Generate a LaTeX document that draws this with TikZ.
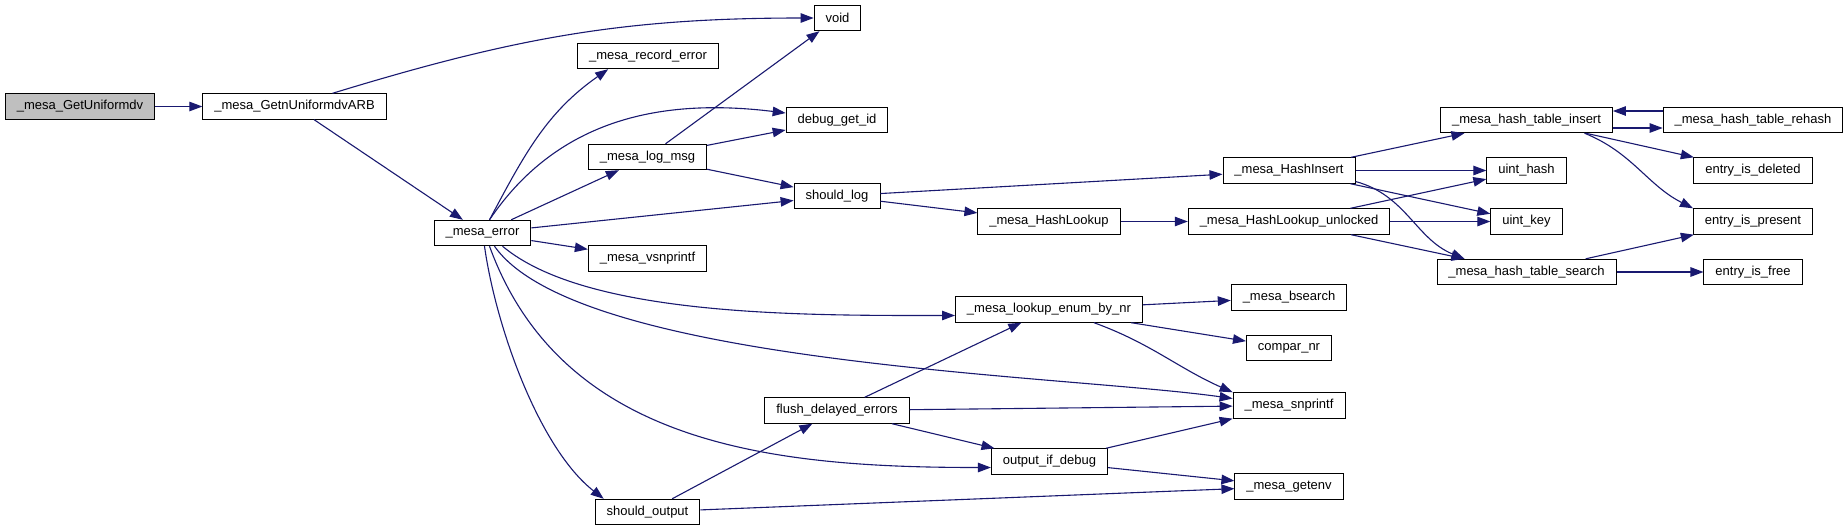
\documentclass[tikz,border=0pt]{standalone}
\usepackage{fontspec}
\setmainfont{Liberation Sans}
\usepackage{xcolor}
\usepackage{tikz}
\usetikzlibrary{arrows.meta,calc}
\definecolor{DoxEdge}{HTML}{191970}
\definecolor{DoxRoot}{HTML}{BFBFBF}

\begin{document}
\begin{tikzpicture}[
  x=1pt,y=1pt,
  font=\fontsize{13}{15}\selectfont,
  fn/.style={rectangle,draw=black,line width=0.9pt,fill=white,minimum height=25.5pt,inner xsep=11.5pt,inner ysep=2pt},
  fnroot/.style={fn,fill=DoxRoot},
  call/.style={-{Triangle[length=13pt,width=9.5pt]},line width=1.1pt,draw=DoxEdge}
]
\useasboundingbox (0,0) rectangle (1848,-531);
\fill[white] (0,0) rectangle (1848,-531);

\node[fnroot] (getunif) at (80,-106.5) {\_mesa\_GetUniformdv};
\node[fn] (getnarb) at (294.5,-106.5) {\_mesa\_GetnUniformdvARB};
\node[fn] (err) at (482.5,-233) {\_mesa\_error};
\node[fn] (void) at (837.5,-18) {void};
\node[fn] (recerr) at (648,-56) {\_mesa\_record\_error};
\node[fn] (dbgid) at (837,-120) {debug\_get\_id};
\node[fn] (logmsg) at (647.5,-157) {\_mesa\_log\_msg};
\node[fn] (shlog) at (837,-196) {should\_log};
\node[fn] (vsnp) at (647.5,-258.5) {\_mesa\_vsnprintf};
\node[fn] (shout) at (647.5,-512) {should\_output};
\node[fn] (flush) at (837,-410.5) {flush\_delayed\_errors};
\node[fn] (hlook) at (1049,-221.5) {\_mesa\_HashLookup};
\node[fn] (lookup) at (1049,-309.5) {\_mesa\_lookup\_enum\_by\_nr};
\node[fn] (outdbg) at (1049.5,-461.5) {output\_if\_debug};
\node[fn] (hins) at (1289,-170.5) {\_mesa\_HashInsert};
\node[fn] (hlookun) at (1289,-221.5) {\_mesa\_HashLookup\_unlocked};
\node[fn] (bsearch) at (1289,-297.5) {\_mesa\_bsearch};
\node[fn] (compar) at (1289,-348) {compar\_nr};
\node[fn] (snp) at (1289,-405.5) {\_mesa\_snprintf};
\node[fn] (getenv) at (1289,-486.5) {\_mesa\_getenv};
\node[fn] (htins) at (1526.5,-120) {\_mesa\_hash\_table\_insert};
\node[fn] (uhash) at (1526.5,-170.5) {uint\_hash};
\node[fn] (ukey) at (1526.5,-221.5) {uint\_key};
\node[fn] (htsrch) at (1526.5,-272) {\_mesa\_hash\_table\_search};
\node[fn] (htreh) at (1753,-120) {\_mesa\_hash\_table\_rehash};
\node[fn] (edel) at (1753,-170.5) {entry\_is\_deleted};
\node[fn] (epres) at (1753,-221.5) {entry\_is\_present};
\node[fn] (efree) at (1753,-272) {entry\_is\_free};

\draw[call] (getunif) -- (getnarb);
\draw[call] ($(getnarb.north)+(38,0)$) to[out=17,in=180] (void.west);
\draw[call] (getnarb) -- (err);
\draw[call] ($(err.north)+(7,0)$) to[out=62,in=215] ($(recerr.south west)+(31,0)$);
\draw[call] ($(err.north)+(7,0)$) to[out=56,in=173] ($(dbgid.west)+(0,7)$);
\draw[call] (err) -- (logmsg);
\draw[call] (err) -- (shlog);
\draw[call] (err) -- (vsnp);
\draw[call] ($(err.south)+(20,0)$) to[out=-40,in=180,out distance=110pt,in distance=150pt] ($(lookup.west)+(0,-6)$);
\draw[call] ($(err.south)+(12,0)$) to[out=-55,in=172,out distance=145pt,in distance=170pt] ($(snp.west)+(0,7)$);
\draw[call] ($(err.south)+(7,0)$) to[out=-70,in=180] ($(outdbg.west)+(0,-6)$);
\draw[call] ($(err.south)+(2,0)$) to[out=-82,in=142,looseness=0.75] ($(shout.north west)+(9,0)$);
\draw[call] (logmsg) -- (void);
\draw[call] (logmsg) -- (dbgid);
\draw[call] (logmsg) -- (shlog);
\draw[call] (shlog) -- (hins);
\draw[call] (shlog) -- (hlook);
\draw[call] (hlook) -- (hlookun);
\draw[call] (hins) -- (htins);
\draw[call] (hins) -- (uhash);
\draw[call] (hins) -- (ukey);
\draw[call] ($(hins.east)+(0,-11)$) to[out=-15,in=158] ($(htsrch.north west)+(28,0)$);
\draw[call] (hlookun) -- (uhash);
\draw[call] (hlookun) -- (ukey);
\draw[call] (hlookun) -- (htsrch);
\draw[call] ($(htins.east)+(0,-8)$) -- ($(htreh.west)+(0,-8)$);
\draw[call] ($(htreh.west)+(0,9)$) -- ($(htins.east)+(0,9)$);
\draw[call] (htins) -- (edel);
\draw[call] ($(htins.south)+(58,0)$) to[out=-22,in=153] (epres.north west);
\draw[call] (htsrch) -- (epres);
\draw[call] (htsrch) -- (efree);
\draw[call] (lookup) -- (bsearch);
\draw[call] (lookup) -- (compar);
\draw[call] ($(lookup.south)+(45,0)$) to[out=-20,in=156] (snp.north west);
\draw[call] (flush) -- (lookup);
\draw[call] (flush) -- (snp);
\draw[call] (flush) -- (outdbg);
\draw[call] (outdbg) -- (snp);
\draw[call] (outdbg) -- (getenv);
\draw[call] (shout) -- (flush);
\draw[call] (shout) -- (getenv);
\end{tikzpicture}
\end{document}
